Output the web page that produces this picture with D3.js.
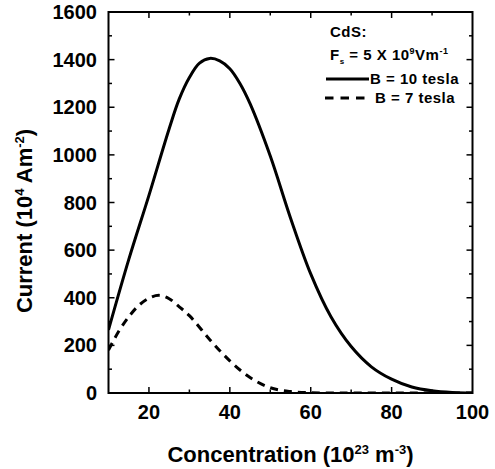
<!DOCTYPE html>
<html>
<head>
<meta charset="utf-8">
<title>CdS current</title>
<script src="https://cdn.jsdelivr.net/npm/d3@7"></script>
<style>
	body { margin: 0; background: #fff; }
	svg text { font-family: "Liberation Sans", Arial, sans-serif; font-weight: bold; fill: #000; }
</style>
</head>
<body>
<script>
// concentration (10^23 m^-3) and current (10^4 A m^-2)
var concB10 = [10, 15, 20, 25, 27.5, 30, 32.5, 35, 37.5, 40, 42.5, 45, 50, 55, 60, 65, 70, 75, 80, 85, 90, 95, 100];
var currB10 = [265, 560, 830, 1110, 1235, 1325, 1385, 1405, 1395, 1362, 1300, 1215, 995, 735, 500, 320, 195, 110, 58, 25, 9, 2, 0];
var concB7 = [10, 12.5, 15, 17.5, 20, 22.5, 25, 27.5, 30, 35, 40, 45, 50, 55, 60, 65, 70, 80, 90, 100];
var currB7 = [180, 258, 320, 368, 398, 410, 396, 362, 325, 225, 135, 65, 22, 6, 1, 0, 0, 0, 0, 0];
var xTicks = [20, 40, 60, 80, 100];
var yTicks = [0, 200, 400, 600, 800, 1000, 1200, 1400, 1600];

var width = 495, height = 469;
var pLeft = 108.5, pRight = 472.5, pTop = 12, pBottom = 393;

var svg = d3.select("body").append("svg")
	.attr("width", width)
	.attr("height", height);

var x = d3.scaleLinear().domain([10, 100]).range([pLeft, pRight]);
var y = d3.scaleLinear().domain([0, 1600]).range([pBottom, pTop]);

// minor + major ticks, inward on all four sides
var xMinor = d3.range(20, 100, 10);
var yMinor = d3.range(100, 1600, 100);
var g = svg.append("g").attr("stroke", "#000").attr("stroke-width", 1.5);
xMinor.forEach(function (v) {
	var len = v % 20 === 0 ? 6 : 3.5;
	g.append("line").attr("x1", x(v)).attr("x2", x(v)).attr("y1", pBottom).attr("y2", pBottom - len);
	g.append("line").attr("x1", x(v)).attr("x2", x(v)).attr("y1", pTop).attr("y2", pTop + len);
});
yMinor.forEach(function (v) {
	var len = v % 200 === 0 ? 6 : 3.5;
	g.append("line").attr("y1", y(v)).attr("y2", y(v)).attr("x1", pLeft).attr("x2", pLeft + len);
	g.append("line").attr("y1", y(v)).attr("y2", y(v)).attr("x1", pRight).attr("x2", pRight - len);
});

// tick labels
svg.selectAll(".xl").data(xTicks).enter().append("text")
	.attr("x", function (d) { return x(d); })
	.attr("y", 419)
	.attr("text-anchor", "middle")
	.attr("font-size", 20)
	.text(function (d) { return d; });
svg.selectAll(".yl").data(yTicks).enter().append("text")
	.attr("x", 97)
	.attr("y", function (d) { return y(d) + 7; })
	.attr("text-anchor", "end")
	.attr("font-size", 20)
	.text(function (d) { return d; });

// curves
var line = d3.line()
	.x(function (d) { return x(d[0]); })
	.y(function (d) { return y(d[1]); })
	.curve(d3.curveCatmullRom.alpha(0.5));

svg.append("clipPath").attr("id", "clip")
	.append("rect").attr("x", pLeft).attr("y", pTop).attr("width", pRight - pLeft).attr("height", pBottom - pTop);

svg.append("path")
	.datum(d3.zip(concB10, currB10))
	.attr("clip-path", "url(#clip)")
	.attr("d", line)
	.attr("fill", "none")
	.attr("stroke", "#000")
	.attr("stroke-width", 3);
svg.append("path")
	.datum(d3.zip(concB7, currB7))
	.attr("clip-path", "url(#clip)")
	.attr("d", line)
	.attr("fill", "none")
	.attr("stroke", "#000")
	.attr("stroke-width", 3)
	.attr("stroke-dasharray", "8,6");

// frame
svg.append("rect")
	.attr("x", pLeft).attr("y", pTop)
	.attr("width", pRight - pLeft).attr("height", pBottom - pTop)
	.attr("fill", "none")
	.attr("stroke", "#000")
	.attr("stroke-width", 2);

// axis titles
var xt = svg.append("text")
	.attr("x", (pLeft + pRight) / 2)
	.attr("y", 462)
	.attr("text-anchor", "middle")
	.attr("font-size", 22);
xt.append("tspan").text("Concentration (10");
xt.append("tspan").attr("dy", -8).attr("font-size", 13).text("23");
xt.append("tspan").attr("dy", 8).text(" m");
xt.append("tspan").attr("dy", -8).attr("font-size", 13).text("-3");
xt.append("tspan").attr("dy", 8).text(")");

var yt = svg.append("text")
	.attr("transform", "translate(32,221) rotate(-90)")
	.attr("text-anchor", "middle")
	.attr("font-size", 22);
yt.append("tspan").text("Current (10");
yt.append("tspan").attr("dy", -8).attr("font-size", 13).text("4");
yt.append("tspan").attr("dy", 8).text(" Am");
yt.append("tspan").attr("dy", -8).attr("font-size", 13).text("-2");
yt.append("tspan").attr("dy", 8).text(")");

// legend
var lg = svg.append("g").attr("font-size", 15).attr("letter-spacing", 0.5);
lg.append("text").attr("x", 330).attr("y", 37).text("CdS:");
var fs = lg.append("text").attr("x", 330).attr("y", 60);
fs.append("tspan").text("F");
fs.append("tspan").attr("dy", 4).attr("font-size", 8).text("s");
fs.append("tspan").attr("dy", -4).text(" = 5 X 10");
fs.append("tspan").attr("dy", -6).attr("font-size", 9).text("9");
fs.append("tspan").attr("dy", 6).text("Vm");
fs.append("tspan").attr("dy", -6).attr("font-size", 9).text("-1");

lg.append("line").attr("x1", 326).attr("x2", 369).attr("y1", 79).attr("y2", 79)
	.attr("stroke", "#000").attr("stroke-width", 3);
lg.append("text").attr("x", 370).attr("y", 84).text("B = 10 tesla");
lg.append("line").attr("x1", 325).attr("x2", 367).attr("y1", 98).attr("y2", 98)
	.attr("stroke", "#000").attr("stroke-width", 3).attr("stroke-dasharray", "8.5,7");
lg.append("text").attr("x", 375).attr("y", 103).text("B = 7 tesla");
</script>
</body>
</html>
